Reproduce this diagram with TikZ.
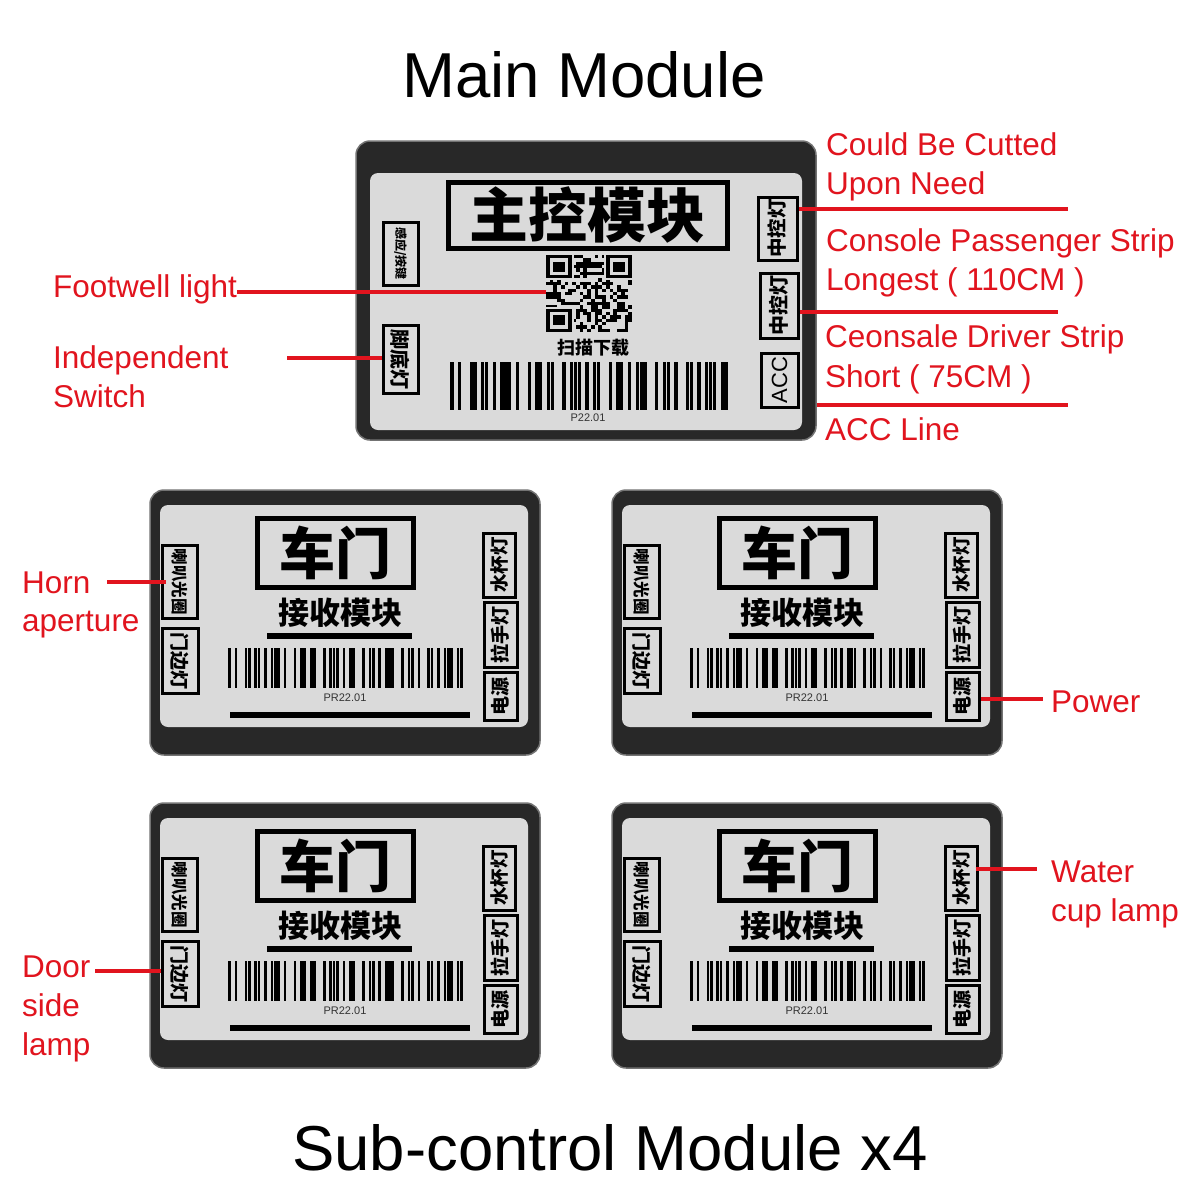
\documentclass[tikz,border=0pt]{standalone}
\usepackage{fontspec}
\usepackage{graphicx}
\setmainfont{Liberation Sans}
\newfontfamily\cjk{Noto Sans CJK SC}
\definecolor{labelred}{RGB}{225,20,30}
\definecolor{bodydark}{RGB}{40,40,40}
\definecolor{bodyrim}{RGB}{115,115,115}
\definecolor{plategray}{RGB}{218,218,218}
\tikzset{
  body/.style={draw=bodyrim, line width=1.5pt, fill=bodydark, rounded corners=14pt, inner sep=0pt},
  plate/.style={fill=plategray, rounded corners=8pt, inner sep=0pt},
  titlebox/.style={draw=black, line width=5pt, fill=plategray, inner sep=0pt},
  tagbox/.style={draw=black, line width=3pt, fill=plategray, inner sep=0pt},
  cjkfont/.style={font={\cjk\bfseries\fontsize{#1}{#1}\selectfont}, inner sep=0pt},
  redtext/.style={text=labelred, font=\fontsize{31.5}{38}\selectfont, inner sep=0pt, anchor=base west},
  redline/.style={draw=labelred, line width=3.5pt},
  smalltext/.style={font=\fontsize{11}{11}\selectfont, inner sep=0pt, text=black!80},
  bigtitle/.style={font=\fontsize{63.5}{63.5}\selectfont, inner sep=0pt, anchor=base}
}
\newcommand{\mybarcode}[4]{%
  \pgfmathsetmacro{\bcw}{(#3-#1)/72}%
  \foreach \bit [count=\k from 0] in {1,0,1,0,0,1,1,0,1,1,0,1,0,1,1,1,0,1,0,0,1,0,1,1,0,1,1,0,0,1,0,1,1,1,0,1,0,1,1,0,0,1,0,1,1,0,1,0,1,1,1,0,0,1,0,1,1,0,1,0,0,1,1,0,1,0,1,1,1,0,1,1}{%
    \ifnum\bit=1 \fill[black] ({#1+\k*\bcw+0.3},#2) rectangle ({#1+(\k+1)*\bcw-0.3},#4);\fi
  }%
}
\newcommand{\qrfinder}[2]{% column, row
  \fill[plategray] ({546+(#1-0.5)*3.74},{255+(#2-0.5)*3.35}) rectangle ++(29.92,26.8);
  \fill[black] ({546+#1*3.74},{255+#2*3.35}) rectangle ++(26.18,23.45);
  \fill[plategray] ({546+(#1+1)*3.74},{255+(#2+1)*3.35}) rectangle ++(18.7,16.75);
  \fill[black] ({546+(#1+2)*3.74},{255+(#2+2)*3.35}) rectangle ++(11.22,10.05);
}
\newcommand{\submodule}[3]{%
  \begin{scope}[shift={(#2,#3)}]
    \node[body, minimum width=390, minimum height=265] (#1-body) at (345,622.5) {};
    \node[plate, minimum width=368, minimum height=222] (#1-plate) at (344,616) {};
    \node[titlebox, minimum width=156, minimum height=69, cjkfont=56] (#1-title) at (335,552.5) {车门};
    \node[cjkfont=31] (#1-recv) at (340,613) {接收模块};
    \fill[black] (267,633) rectangle (412,639);
    \mybarcode{228}{648}{463}{688}
    \node[smalltext] (#1-pr) at (345,698) {PR22.01};
    \fill[black] (230,712) rectangle (470,718);
    \node[tagbox, minimum width=35, minimum height=73, cjkfont=16.5] (#1-horn) at (179.5,581.5) {\rotatebox{-90}{喇叭光圈}};
    \node[tagbox, minimum width=36, minimum height=65, cjkfont=19] (#1-door) at (180,660.5) {\rotatebox{-90}{门边灯}};
    \node[tagbox, minimum width=32, minimum height=64, cjkfont=18.5] (#1-cup) at (499,565) {\rotatebox{90}{水杯灯}};
    \node[tagbox, minimum width=33, minimum height=65, cjkfont=19] (#1-handle) at (500.5,634.5) {\rotatebox{90}{拉手灯}};
    \node[tagbox, minimum width=33, minimum height=48, cjkfont=19] (#1-power) at (500.5,696) {\rotatebox{90}{电源}};
  \end{scope}
}
\begin{document}
\begin{tikzpicture}[x=1pt,y=-1pt]
\fill[white] (0,0) rectangle (1200,1200);
\useasboundingbox (0,0) rectangle (1200,1200);

% titles
\node[bigtitle] (maintitle) at (584,97) {Main Module};
\node[bigtitle] (subtitle) at (610,1170) {Sub-control Module x4};

% main module
\node[body, minimum width=460, minimum height=299] (main) at (586,290.5) {};
\node[plate, minimum width=432, minimum height=257] (mainplate) at (586,301.5) {};
\node[titlebox, minimum width=279, minimum height=66, cjkfont=59] (mainname) at (587.5,215) {主控模块};
\node[tagbox, minimum width=35, minimum height=63, cjkfont=12] (touch) at (400.5,253.5) {\rotatebox{-90}{感应/按键}};
\node[tagbox, minimum width=35, minimum height=68, cjkfont=20] (foot) at (400.5,359) {\rotatebox{-90}{脚底灯}};
\node[tagbox, minimum width=39, minimum height=63, cjkfont=19.5] (ctrla) at (777.5,228.5) {\rotatebox{90}{中控灯}};
\node[tagbox, minimum width=38, minimum height=65, cjkfont=20] (ctrlb) at (779,305.5) {\rotatebox{90}{中控灯}};
\node[tagbox, minimum width=37, minimum height=54, font=\fontsize{22}{22}\selectfont] (acc) at (779.5,380) {\rotatebox{90}{ACC}};
% QR code
\node[inner sep=0pt, minimum width=86, minimum height=77] (qr) at (589,293.5) {};
\pgfmathsetseed{12}
\foreach \r in {0,...,22}{\foreach \c in {0,...,22}{%
  \pgfmathrandominteger{\q}{0}{1}%
  \ifnum\q=1 \fill[black] ({546+\c*3.74},{255+\r*3.35}) rectangle ++(3.74,3.35);\fi}}
\qrfinder{0}{0}
\qrfinder{16}{0}
\qrfinder{0}{16}
\node[cjkfont=18] (scan) at (593,348) {扫描下载};
\mybarcode{450}{362}{728}{410}
\node[smalltext] (pnum) at (588,418) {P22.01};

% sub modules
\submodule{tl}{0}{0}
\submodule{tr}{462}{0}
\submodule{bl}{0}{313}
\submodule{br}{462}{313}

% red labels
\node[redtext] (footwell) at (53,297) {Footwell light};
\node[redtext] (indepa) at (53,368) {Independent};
\node[redtext] (indepb) at (53,407) {Switch};
\node[redtext] (cuta) at (826,155) {Could Be Cutted};
\node[redtext] (cutb) at (826,194) {Upon Need};
\node[redtext] (consa) at (826,251) {Console Passenger Strip};
\node[redtext] (consb) at (826,290) {Longest ( 110CM )};
\node[redtext] (drva) at (825,347) {Ceonsale Driver Strip};
\node[redtext] (drvb) at (825,387) {Short ( 75CM )};
\node[redtext] (accline) at (825,440) {ACC Line};
\node[redtext] (horna) at (22,593) {Horn};
\node[redtext] (hornb) at (22,631) {aperture};
\node[redtext] (doora) at (22,977) {Door};
\node[redtext] (doorb) at (22,1016) {side};
\node[redtext] (doorc) at (22,1055) {lamp};
\node[redtext] (powerlbl) at (1051,712) {Power};
\node[redtext] (watera) at (1051,882) {Water};
\node[redtext] (waterb) at (1051,921) {cup lamp};

% red connectors
\coordinate (fwstart) at ([yshift=5pt]footwell.base east);
\draw[redline] (fwstart) -- (fwstart -| qr.west);
\coordinate (indstart) at (287,358);
\draw[redline] (indstart) -- (indstart -| foot.west);
\coordinate (cutend) at (1068,209);
\draw[redline] (cutend -| ctrla.east) -- (cutend);
\coordinate (consend) at (1058,312);
\draw[redline] (consend -| ctrlb.east) -- (consend);
\coordinate (drvend) at (1068,405);
\draw[redline] (drvend -| main.east) -- (drvend);
\coordinate (hornstart) at (107,582);
\draw[redline] (hornstart) -- ([xshift=5pt]hornstart -| tl-horn.west);
\coordinate (doorstart) at (95,971);
\draw[redline] (doorstart) -- (doorstart -| bl-door.west);
\coordinate (powend) at (1043,699);
\draw[redline] (tr-power.east |- powend) -- (powend);
\coordinate (waterend) at (1037,869);
\draw[redline] ([xshift=-3pt]br-cup.east |- waterend) -- (waterend);
\end{tikzpicture}
\end{document}
